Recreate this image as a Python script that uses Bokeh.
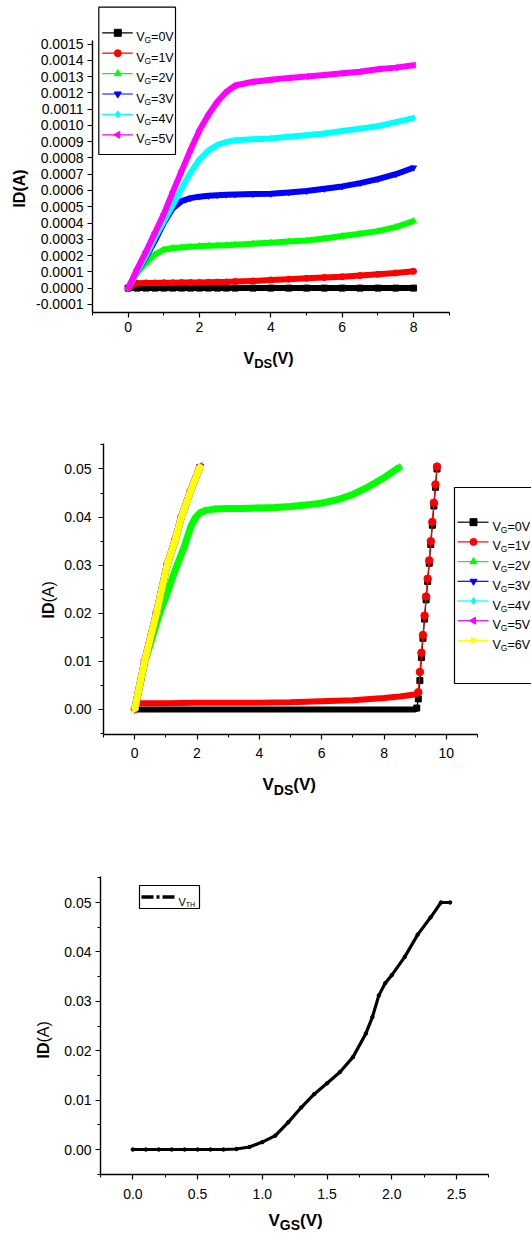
import math
from bokeh.plotting import figure
from bokeh.models import FixedTicker, PrintfTickFormatter, Label, Range1d
from bokeh.layouts import column
from bokeh.embed import file_html
from bokeh.resources import INLINE
from bokeh.core.properties import value

FONT = "Liberation Sans"

# ---------------- Panel 1 data (output characteristics, small device) ----------------
p1_vds = [0, 0.25, 0.5, 0.75, 1.0, 1.25, 1.5, 1.75, 2.0, 2.25, 2.5, 2.75, 3.0,
          3.5, 4.0, 4.5, 5.0, 5.5, 6.0, 6.5, 7.0, 7.5, 8.0]
p1_vg0 = [0, 0, 0, 0, 0, 0, 0, 0, 0, 0, 0, 0, 0, 0, 0, 0, 0, 0, 0, 0, 0, 0, 0]
p1_vg1 = [0, 0.000030, 0.000032, 0.000032, 0.000033, 0.000033, 0.000034, 0.000034,
          0.000035, 0.000036, 0.000037, 0.000038, 0.000040, 0.000044, 0.000050,
          0.000055, 0.000060, 0.000065, 0.000070, 0.000077, 0.000085, 0.000093, 0.000103]
p1_vg2 = [0, 0.000094, 0.000156, 0.000207, 0.000236, 0.000246, 0.000250, 0.000254,
          0.000258, 0.000260, 0.000262, 0.000264, 0.000267, 0.000273, 0.000279,
          0.000286, 0.000293, 0.000305, 0.000320, 0.000334, 0.000350, 0.000375, 0.000412]
p1_vg3 = [0, 0.000100, 0.000190, 0.000290, 0.000400, 0.000490, 0.000535, 0.000553,
          0.000562, 0.000567, 0.000571, 0.000574, 0.000576, 0.000578, 0.000580,
          0.000588, 0.000597, 0.000610, 0.000625, 0.000645, 0.000670, 0.000700, 0.000740]
p1_vg4 = [0, 0.000100, 0.000200, 0.000310, 0.000410, 0.000510, 0.000612, 0.000710,
          0.000790, 0.000845, 0.000880, 0.000898, 0.000908, 0.000915, 0.000920,
          0.000930, 0.000940, 0.000950, 0.000965, 0.000980, 0.000995, 0.001020, 0.001045]
p1_vg5 = [0, 0.000115, 0.000225, 0.000340, 0.000455, 0.000590, 0.000720, 0.000850,
          0.000970, 0.001065, 0.001145, 0.001205, 0.001245, 0.001268, 0.001280,
          0.001292, 0.001300, 0.001310, 0.001320, 0.001330, 0.001345, 0.001355, 0.001370]
p1_labels = ["0V", "1V", "2V", "3V", "4V", "5V"]
p1_yticks = [-0.0001, 0.0, 0.0001, 0.0002, 0.0003, 0.0004, 0.0005, 0.0006, 0.0007,
             0.0008, 0.0009, 0.0010, 0.0011, 0.0012, 0.0013, 0.0014, 0.0015]
p1_xticks = [0, 2, 4, 6, 8]
p1_xminor = [-1, 1, 3, 5, 7, 9]

# ---------------- Panel 2 data (output characteristics, large device) ----------------
p2_vds_lin = [0, 0.32, 0.70, 1.04, 1.30, 1.50, 1.79, 2.10]
p2_vg3 = [0, 0.0100, 0.0200, 0.0300, 0.0352, 0.0400, 0.0453, 0.0505]
p2_vg4 = [0, 0.0100, 0.0200, 0.0300, 0.0352, 0.0400, 0.0453, 0.0505]
p2_vg5 = [0, 0.0101, 0.0201, 0.0301, 0.0353, 0.0401, 0.0454, 0.0506]
p2_vg6 = [0, 0.0100, 0.0200, 0.0300, 0.0352, 0.0400, 0.0453, 0.0505]
p2_vds_g2 = [0, 0.33, 0.80, 1.00, 1.36, 1.60, 1.80, 1.95, 2.10, 2.30, 2.60, 3.00, 3.50,
             4.00, 4.50, 5.00, 5.50, 6.00, 6.50, 7.00, 7.50, 8.00, 8.50]
p2_vg2 = [0, 0.0100, 0.0200, 0.0235, 0.0300, 0.0340, 0.0380, 0.0399, 0.0409, 0.0414,
          0.0417, 0.0418, 0.0418, 0.0419, 0.0420, 0.0422, 0.0425, 0.0429, 0.0436,
          0.0447, 0.0463, 0.0482, 0.0504]
p2_vds_g1 = [0, 0.15, 1, 2, 3, 4, 5, 6, 7, 8, 8.5, 9.0, 9.10, 9.15, 9.20, 9.25,
             9.30, 9.35, 9.40, 9.45, 9.50, 9.55, 9.60, 9.65, 9.70]
p2_vg1 = [0, 0.0013, 0.0013, 0.0014, 0.0014, 0.0014, 0.0015, 0.0017, 0.0019, 0.0024,
          0.0027, 0.0031, 0.0036, 0.0078, 0.0118, 0.0155, 0.0195, 0.0235, 0.0272,
          0.0310, 0.0350, 0.0390, 0.0430, 0.0468, 0.0505]
p2_vds_g0 = [0, 0.15, 1, 2, 3, 4, 5, 6, 7, 8, 8.5, 9.0, 9.05, 9.10, 9.15, 9.20,
             9.25, 9.30, 9.35, 9.40, 9.45, 9.50, 9.55, 9.60, 9.65, 9.70]
p2_vg0 = [0, 0, 0, 0, 0, 0, 0, 0, 0, 0, 0, 0, 0.0003, 0.0022, 0.0060, 0.0108,
          0.0148, 0.0188, 0.0228, 0.0266, 0.0304, 0.0343, 0.0383, 0.0423, 0.0462, 0.0500]
p2_labels = ["0V", "1V", "2V", "3V", "4V", "5V", "6V"]
p2_yticks = [0.00, 0.01, 0.02, 0.03, 0.04, 0.05]
p2_yminor = [-0.005, 0.005, 0.015, 0.025, 0.035, 0.045, 0.055]
p2_xticks = [0, 2, 4, 6, 8, 10]
p2_xminor = [-1, 1, 3, 5, 7, 9, 11]

# ---------------- Panel 3 data (transfer characteristic) ----------------
p3_vgs = [0, 0.1, 0.2, 0.3, 0.4, 0.5, 0.6, 0.7, 0.8, 0.9, 1.0, 1.1, 1.2, 1.3, 1.4,
          1.5, 1.6, 1.7, 1.8, 1.85, 1.9, 1.95, 2.0, 2.1, 2.2, 2.3, 2.38, 2.45]
p3_id = [0, 0, 0, 0, 0, 0, 0, 0, 0.0001, 0.0005, 0.0015, 0.0028, 0.0055, 0.0085,
         0.0112, 0.0134, 0.0157, 0.0187, 0.0235, 0.0268, 0.0312, 0.0337, 0.0353,
         0.0390, 0.0435, 0.0470, 0.0500, 0.0500]
p3_yticks = [0.00, 0.01, 0.02, 0.03, 0.04, 0.05]
p3_yminor = [-0.005, 0.005, 0.015, 0.025, 0.035, 0.045, 0.055]
p3_xticks = [0.0, 0.5, 1.0, 1.5, 2.0, 2.5]
p3_xminor = [-0.25, 0.25, 0.75, 1.25, 1.75, 2.25, 2.75]

COLORS = ["#000000", "#FF0000", "#00FF00", "#0000FF", "#00FFFF", "#FF00FF", "#FFFF00"]
MARKERS = [("square", 0.0), ("circle", 0.0), ("triangle", 0.0), ("inverted_triangle", 0.0),
           ("diamond", 0.0), ("triangle", math.pi / 2), ("triangle", -math.pi / 2)]


class Panel:
    """A figure whose frame fills the whole canvas; axes sit at fixed data locations."""

    def __init__(self, top, height, fl, fb, x0, ppx, y0, ppy):
        self.top, self.height, self.fl, self.fb = top, height, fl, fb
        self.x0, self.ppx, self.y0, self.ppy = x0, ppx, y0, ppy
        self.p = figure(width=531, height=height,
                        x_range=Range1d(self.X(0), self.X(531)),
                        y_range=Range1d(self.Y(top + height), self.Y(top)),
                        min_border_left=0, min_border_right=0, min_border_top=0,
                        min_border_bottom=0,
                        toolbar_location=None, output_backend="svg")
        p = self.p
        p.grid.visible = False
        p.outline_line_color = None
        p.background_fill_color = "white"
        p.border_fill_color = "white"

    def X(self, px):
        return self.x0 + (px - self.fl) / self.ppx

    def Y(self, py):
        return self.y0 + (self.fb - py) / self.ppy

    def style_axes(self, xticks, xminor, xfmt, xb, yticks, yminor, yfmt, yb, fs, xstand, ystand):
        p = self.p
        p.xaxis[0].fixed_location = yb[0]
        p.yaxis[0].fixed_location = xb[0]
        for ax, t, m, f, b, st in ((p.xaxis[0], xticks, xminor, xfmt, xb, xstand),
                                   (p.yaxis[0], yticks, yminor, yfmt, yb, ystand)):
            ax.ticker = FixedTicker(ticks=t, minor_ticks=m)
            ax.formatter = PrintfTickFormatter(format=f)
            ax.bounds = b
            ax.axis_line_width = 1.4
            ax.axis_line_color = "black"
            ax.major_tick_line_color = "black"
            ax.minor_tick_line_color = "black"
            ax.major_tick_line_width = 1.2
            ax.minor_tick_line_width = 1.0
            ax.major_tick_in = 0
            ax.major_tick_out = 5
            ax.minor_tick_in = 0
            ax.minor_tick_out = 3
            ax.major_label_text_font = FONT
            ax.major_label_text_font_size = fs
            ax.major_label_text_color = "black"
            ax.major_label_standoff = st
            ax.axis_label = None

    def label(self, px, py, text, size, bold=True, angle=0.0, align="left", baseline="alphabetic"):
        self.p.add_layout(Label(x=self.X(px), y=self.Y(py), text=text,
                                text_font=FONT, text_font_size=size,
                                text_font_style="bold" if bold else "normal",
                                text_color="black", angle=angle,
                                text_align=align, text_baseline=baseline))

    def txt(self, px, py, text, size):
        self.p.text(x=[self.X(px)], y=[self.Y(py)], text=[text],
                    text_font=value(FONT), text_font_size=value(size),
                    text_color="black", text_align="left", text_baseline="alphabetic")

    def legend_entry(self, x1, x2, xm, yc, color, marker, angle, msize, label_main, sub, rest,
                     fsize, subsize, sub_w, main_w, tx, dash="solid", lw=1.2):
        p = self.p
        p.line(x=[self.X(x1), self.X(x2)], y=[self.Y(yc), self.Y(yc)],
               line_color=color, line_width=lw, line_dash=dash)
        if marker is not None:
            p.scatter(x=[self.X(xm)], y=[self.Y(yc)], marker=marker, angle=angle,
                      size=msize, fill_color=color, line_color=color)
        self.txt(tx, yc + 4.5, label_main, fsize)
        self.txt(tx + main_w, yc + 7.5, sub, subsize)
        if rest:
            self.txt(tx + main_w + sub_w, yc + 4.5, rest, fsize)

    def xtitle(self, x_start, base, sub, size=17, subsize=14, drop=5):
        # main letter, bold subscript, then "(V)"
        w_v = 0.667 * size
        w_sub = {"DS": 1.389, "GS": 1.445}[sub] * subsize
        self.label(x_start, base, "V", "%dpx" % size)
        self.label(x_start + w_v, base + drop, sub, "%dpx" % subsize)
        self.label(x_start + w_v + w_sub, base, "(V)", "%dpx" % size)


def scatter(p, xs, ys, color, marker, angle, size):
    p.scatter(x=xs, y=ys, marker=marker, angle=angle, size=size,
              fill_color=color, line_color=color)


# ================= Figure 1 =================
A = Panel(top=0, height=420, fl=92, fb=312, x0=-1, ppx=35.67, y0=-0.00015, ppy=162700)
A.style_axes(p1_xticks, p1_xminor, "%d", (-1, 9),
             p1_yticks, [], "%.4f", (-0.00015, 0.00152), "14px", 4, 4)
p = A.p
p1_series = [p1_vg0, p1_vg1, p1_vg2, p1_vg3, p1_vg4, p1_vg5]
for i, ys in enumerate(p1_series):
    p.line(x=p1_vds, y=ys, line_color=COLORS[i], line_width=6, line_join="round")
    scatter(p, p1_vds, ys, COLORS[i], MARKERS[i][0], MARKERS[i][1], 6)
# legend 1
p.quad(left=[A.X(98.3)], right=[A.X(175)], top=[A.Y(6.7)], bottom=[A.Y(154)],
       fill_color="white", line_color="black", line_width=1.2)
for i, lab in enumerate(p1_labels):
    yc = 32.3 + i * 20.4
    A.legend_entry(101.7, 132.3, 117.3, yc, COLORS[i], MARKERS[i][0], MARKERS[i][1], 7,
                   "V", "G", "=" + lab, "12.5px", "8.5px", 6.6, 8.3, 135.7)
# axis titles
A.label(19, 188, "ID(A)", "16px", bold=True, angle=math.pi / 2, align="center", baseline="middle")
A.xtitle(243, 358, "DS", size=16, subsize=13)

# ================= Figure 2 =================
B = Panel(top=420, height=410, fl=103, fb=734, x0=-1, ppx=31.17, y0=-0.0052, ppy=4810)
B.style_axes(p2_xticks, p2_xminor, "%d", (-1, 11),
             p2_yticks, p2_yminor, "%.2f", (-0.0052, 0.0552), "14px", 8, 7)
p = B.p
# VG=0 (black)
flat0 = [i for i, v in enumerate(p2_vds_g0) if v <= 9.05]
steep0 = [i for i, v in enumerate(p2_vds_g0) if v >= 9.05]
p.line(x=[p2_vds_g0[i] for i in flat0], y=[p2_vg0[i] for i in flat0],
       line_color=COLORS[0], line_width=6)
p.line(x=p2_vds_g0, y=p2_vg0, line_color=COLORS[0], line_width=1.2)
scatter(p, [p2_vds_g0[i] for i in steep0], [p2_vg0[i] for i in steep0],
        COLORS[0], "square", 0.0, 6)
# VG=1 (red)
flat1 = [i for i, v in enumerate(p2_vds_g1) if 0 < v <= 9.1]
steep1 = [i for i, v in enumerate(p2_vds_g1) if v >= 9.1]
p.line(x=[p2_vds_g1[i] for i in flat1], y=[p2_vg1[i] for i in flat1],
       line_color=COLORS[1], line_width=6)
p.line(x=p2_vds_g1, y=p2_vg1, line_color=COLORS[1], line_width=1.2)
scatter(p, [p2_vds_g1[i] for i in steep1], [p2_vg1[i] for i in steep1],
        COLORS[1], "circle", 0.0, 7.5)
# VG=2 (green)
p.line(x=p2_vds_g2, y=p2_vg2, line_color=COLORS[2], line_width=7, line_join="round")
scatter(p, p2_vds_g2, p2_vg2, COLORS[2], "triangle", 0.0, 6)
# VG=3..6
for i, ys in zip([3, 4, 5, 6], [p2_vg3, p2_vg4, p2_vg5, p2_vg6]):
    p.line(x=p2_vds_lin, y=ys, line_color=COLORS[i], line_width=7, line_join="round")
    scatter(p, p2_vds_lin, ys, COLORS[i], MARKERS[i][0], MARKERS[i][1], 7)
# legend 2
p.quad(left=[B.X(454)], right=[B.X(560)], top=[B.Y(487)], bottom=[B.Y(683)],
       fill_color="white", line_color="black", line_width=1.2)
for i, lab in enumerate(p2_labels):
    yc = 521.7 + i * 19.7
    B.legend_entry(457, 488, 473, yc, COLORS[i], MARKERS[i][0], MARKERS[i][1], 7,
                   "V", "G", "=" + lab, "12.5px", "8.5px", 6.6, 8.3, 492)
B.label(47.5, 618, "ID", "16px", bold=True, angle=math.pi / 2, baseline="middle")
B.label(47.5, 602, "(A)", "16px", bold=False, angle=math.pi / 2, baseline="middle")
B.xtitle(262, 784, "DS", size=17, subsize=14)

# ================= Figure 3 =================
C = Panel(top=830, height=404, fl=100, fb=1174, x0=-0.25, ppx=129.47, y0=-0.00506, ppy=4940)
C.style_axes(p3_xticks, p3_xminor, "%.1f", (-0.25, 2.75),
             p3_yticks, p3_yminor, "%.2f", (-0.00506, 0.0553), "14px", 9, 4)
p = C.p
p.line(x=p3_vgs, y=p3_id, line_color="black", line_width=3.2, line_join="round")
scatter(p, p3_vgs, p3_id, "black", "circle", 0.0, 3.5)
p.quad(left=[C.X(139)], right=[C.X(199)], top=[C.Y(885)], bottom=[C.Y(908)],
       fill_color="white", line_color="black", line_width=1.2)
C.legend_entry(141, 176, 0, 896.5, "black", None, 0.0, 0, "V", "TH", "",
               "11px", "7px", 0, 7.3, 178, dash="12 3 3 3", lw=3.5)
C.label(43, 1058, "ID", "16px", bold=True, angle=math.pi / 2, baseline="middle")
C.label(43, 1042, "(A)", "16px", bold=False, angle=math.pi / 2, baseline="middle")
C.xtitle(268, 1220, "GS", size=17, subsize=14, drop=4)

layout = column(A.p, B.p, C.p)
open("out.html", "w").write(file_html(layout, INLINE))
